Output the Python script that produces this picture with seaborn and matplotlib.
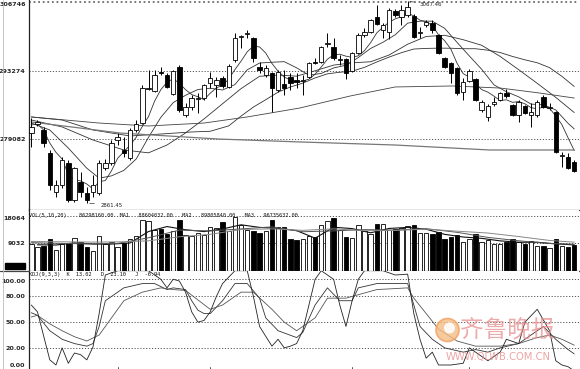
import numpy as np
import matplotlib
matplotlib.use("Agg")
import matplotlib.pyplot as plt
from matplotlib.patches import Ellipse
from matplotlib.lines import Line2D
import seaborn as sns

sns.set_style("white")
plt.rcParams['font.family'] = ['DejaVu Sans']

# ---------------- data ----------------
opens = [2932.8, 2942.0, 2935.9, 2912.4, 2872.7, 2879.8, 2902.2, 2864.5, 2882.9, 2871.6,
         2872.7, 2871.6, 2897.1, 2902.2, 2925.7, 2915.5, 2907.3, 2935.9, 2943.0, 2977.7,
         2975.7, 2995.1, 2992.0, 2972.6, 3000.2, 2951.2, 2959.4, 2967.5, 2968.5, 2983.8,
         2981.8, 2988.9, 2979.8, 3007.3, 3030.8, 3033.8, 3029.7, 3000.2, 2992.0, 2994.0,
         2976.7, 2982.8, 2990.0, 2986.9, 2985.9, 2990.0, 3005.3, 3005.3, 3023.6, 3020.6,
         3007.3, 3008.3, 2996.1, 3014.4, 3032.8, 3035.9, 3051.2, 3037.9, 3035.9, 3057.3,
         3051.2, 3053.2, 3052.2, 3034.8, 3043.0, 3045.0, 3032.8, 3009.3, 3004.2, 2999.1,
         2974.7, 2985.9, 2987.9, 2956.3, 2949.2, 2962.4, 2966.5, 2973.6, 2961.4, 2951.2,
         2960.4, 2951.2, 2951.2, 2969.6, 2958.3, 2954.3, 2909.4, 2908.4, 2903.3]
highs = [2948.1, 2946.1, 2939.0, 2915.5, 2884.9, 2908.4, 2905.3, 2898.2, 2893.1, 2877.8,
         2890.0, 2905.3, 2906.3, 2925.7, 2932.8, 2928.8, 2937.9, 2946.1, 2981.8, 2997.1,
         2997.1, 3000.2, 2994.0, 2997.1, 3002.2, 2963.4, 2971.6, 2973.6, 2982.8, 2995.1,
         2990.0, 2991.0, 3003.2, 3034.8, 3032.8, 3037.9, 3030.8, 3005.3, 3002.2, 2995.1,
         2997.1, 2997.1, 2994.0, 2994.0, 2992.0, 3005.3, 3009.3, 3021.6, 3034.8, 3029.7,
         3012.4, 3009.3, 3015.5, 3034.8, 3039.9, 3049.1, 3063.4, 3045.0, 3060.3, 3059.3,
         3063.4, 3067.46, 3054.2, 3041.0, 3048.1, 3048.1, 3033.8, 3010.4, 3005.3, 3000.2,
         2988.9, 2998.1, 2988.9, 2966.5, 2962.4, 2969.6, 2974.7, 2977.7, 2962.4, 2966.5,
         2961.4, 2963.4, 2966.5, 2971.6, 2963.4, 2955.3, 2913.5, 2912.4, 2905.3]
lows = [2918.6, 2940.0, 2918.6, 2874.7, 2867.6, 2876.7, 2862.5, 2862.5, 2867.6, 2861.45,
        2867.6, 2869.6, 2895.1, 2900.2, 2920.6, 2908.4, 2905.3, 2933.9, 2942.0, 2976.7,
        2974.7, 2992.0, 2978.7, 2971.6, 2954.3, 2949.2, 2956.3, 2953.2, 2966.5, 2978.7,
        2969.6, 2978.7, 2978.7, 3005.3, 3019.5, 3029.7, 3005.3, 2994.0, 2990.0, 2954.3,
        2974.7, 2971.6, 2976.7, 2978.7, 2971.6, 2988.9, 3003.2, 3004.2, 3020.6, 3007.3,
        3002.2, 2987.9, 2995.1, 3013.4, 3030.8, 3034.8, 3043.0, 3029.7, 3028.7, 3051.2,
        3043.0, 3051.2, 3029.7, 3029.7, 3041.0, 3034.8, 3013.4, 2999.1, 2983.8, 2971.6,
        2966.5, 2984.9, 2965.5, 2954.3, 2945.1, 2960.4, 2965.5, 2968.5, 2950.2, 2944.1,
        2952.2, 2939.0, 2949.2, 2958.3, 2956.3, 2912.4, 2898.2, 2896.1, 2893.1]
closes = [2939.0, 2944.1, 2922.6, 2879.8, 2879.8, 2905.3, 2864.5, 2897.1, 2872.7, 2864.5,
          2879.8, 2902.2, 2902.2, 2922.6, 2928.8, 2912.4, 2935.9, 2942.0, 2978.7, 2978.7,
          2992.0, 2994.0, 2979.8, 2996.1, 2956.3, 2959.4, 2968.5, 2968.5, 2981.8, 2988.9,
          2986.9, 2980.8, 3001.2, 3029.7, 3031.8, 3034.8, 3009.3, 2997.1, 2999.1, 2978.7,
          2995.1, 2978.7, 2983.8, 2984.9, 2986.9, 3004.2, 3004.2, 3020.6, 3024.6, 3009.3,
          3008.3, 2994.0, 3014.4, 3032.8, 3035.9, 3048.1, 3044.0, 3043.0, 3058.3, 3053.2,
          3058.3, 3061.4, 3030.8, 3035.9, 3046.1, 3037.9, 3014.4, 3000.2, 2994.0, 2973.6,
          2984.9, 2996.1, 2966.5, 2964.5, 2960.4, 2964.5, 2973.6, 2970.6, 2951.2, 2964.5,
          2953.2, 2954.3, 2964.5, 2959.4, 2959.4, 2913.5, 2910.4, 2897.1, 2894.1]
volumes = [9000, 7941, 8282, 10565, 6816, 8758, 9304, 10803, 9645, 7941,
           6475, 11587, 8758, 9440, 7941, 9304, 10565, 11587, 17040, 16699,
           13632, 13973, 12166, 13053, 17040, 11928, 11690, 12507, 11928, 14552,
           14211, 16256, 13053, 17824, 15097, 13393, 13291, 12507, 13291, 17040,
           14416, 14552, 10463, 10224, 10463, 11587, 11349, 15097, 16699, 17619,
           13632, 11349, 10803, 15336, 13291, 12269, 15574, 15574, 13632, 13871,
           14211, 14757, 15097, 12507, 12507, 12269, 12712, 10463, 11349, 11826,
           9645, 10463, 12166, 9645, 10224, 8758, 8758, 9645, 10463, 9645,
           8861, 9985, 8282, 8282, 7600, 10463, 8179, 7941, 8622]

ma5 = [2941.0, 2942.0, 2935.9, 2922.6, 2913.1, 2906.3, 2890.4, 2885.3, 2883.9, 2880.8,
       2875.7, 2883.3, 2884.3, 2894.3, 2907.1, 2913.7, 2920.4, 2928.4, 2939.6, 2949.6,
       2965.5, 2977.1, 2984.7, 2988.1, 2983.6, 2977.1, 2972.0, 2969.8, 2966.9, 2973.4,
       2978.9, 2981.4, 2987.9, 2997.5, 3006.1, 3015.7, 3021.4, 3020.6, 3014.4, 3003.8,
       2995.9, 2989.8, 2987.1, 2984.2, 2985.9, 2987.7, 2992.8, 3000.2, 3008.1, 3012.6,
       3013.2, 3011.2, 3010.0, 3011.6, 3016.9, 3025.0, 3035.0, 3040.8, 3045.9, 3049.3,
       3051.4, 3054.8, 3052.4, 3047.9, 3046.5, 3042.4, 3033.0, 3026.9, 3018.5, 3004.0,
       2993.4, 2989.8, 2983.0, 2977.1, 2974.5, 2970.4, 2965.9, 2966.7, 2964.1, 2964.9,
       2962.6, 2958.7, 2957.5, 2959.2, 2958.1, 2950.2, 2941.4, 2927.9, 2914.9]
ma10_x = [0, 3, 6, 9, 11, 13, 15, 17, 19, 21, 23, 25, 27, 29, 31, 33, 35, 37, 39, 41, 43, 45,
          47, 49, 51, 53, 55, 57, 59, 61, 63, 65, 67, 69, 71, 73, 75, 77, 79, 81, 83, 85, 87, 88]
ma10 = [2943.0, 2935.9, 2917.5, 2896.9, 2886.8, 2889.1, 2894.7, 2906.3, 2928.4, 2948.8,
        2963.8, 2971.3, 2977.2, 2978.5, 2976.7, 2982.2, 2997.3, 3004.2, 3005.0, 3005.6,
        2999.3, 2991.8, 2993.6, 2999.2, 3002.0, 3009.8, 3019.1, 3025.4, 3033.1, 3044.9,
        3046.9, 3046.9, 3039.6, 3025.3, 3011.4, 2997.8, 2981.9, 2974.9, 2969.7, 2962.3,
        2961.6, 2956.4, 2942.7, 2937.0]
ma20_x = [0, 5, 10, 15, 19, 22, 25, 28, 31, 34, 37, 40, 43, 46, 49, 52, 55, 58, 61, 64, 67,
          70, 73, 76, 79, 82, 85, 88]
ma20 = [2946.1, 2939.0, 2925.7, 2915.5, 2912.6, 2920.6, 2932.9, 2947.2, 2962.7, 2978.1,
        2990.7, 2991.9, 2990.8, 2996.3, 3002.1, 3004.4, 3005.5, 3012.4, 3023.4, 3031.3,
        3032.5, 3028.0, 3022.3, 3010.9, 2997.4, 2983.5, 2969.2, 2953.7]
ma30_x = [0, 5, 10, 16, 21, 26, 29, 32, 34, 36, 38, 40, 42, 44, 46, 48, 50, 52, 54, 56, 58,
          60, 62, 64, 66, 68, 70, 72, 74, 76, 78, 80, 82, 84, 86, 88]
ma30 = [2949.2, 2946.1, 2935.9, 2929.8, 2931.8, 2933.9, 2934.6, 2940.1, 2950.1, 2959.3,
        2966.8, 2974.5, 2979.8, 2983.7, 2989.0, 2993.2, 2994.8, 2995.9, 2999.8, 3005.3,
        3010.3, 3014.8, 3018.5, 3019.1, 3019.4, 3019.3, 3018.8, 3018.8, 3017.3, 3014.9,
        3010.9, 3007.5, 3004.5, 2999.5, 2990.6, 2980.3]
ma_long1_x = [0, 11, 19, 28, 35, 43.5, 51.7, 59, 68.3, 76, 82.4, 88]
ma_long1 = [2949.2, 2943.0, 2940.0, 2943.0, 2949.2, 2958.3, 2970.6, 2979.8, 2980.8,
            2978.7, 2973.6, 2968.5]
ma_long2_x = [0, 14.4, 30.3, 43.5, 58.9, 74.3, 88]
ma_long2 = [2944.1, 2932.8, 2926.7, 2923.7, 2920.6, 2915.5, 2915.5]

vma5_x = [1, 4, 7, 10, 13, 16, 19, 22, 25, 28, 31, 34, 37, 40, 43, 46, 49, 52, 55, 58, 61,
          64, 67, 70, 73, 76, 79, 82, 85, 88]
vma5 = [8600, 8521, 9249, 8834, 8840, 9202, 13039, 14702, 13632, 13019, 13891, 15288, 14422,
        14109, 13339, 10817, 14470, 14020, 12610, 14068, 14409, 13816, 12092, 11199, 10749,
        9910, 9454, 9447, 8922, 8561]
vma10_x = [0, 4, 9, 14, 19, 24, 29, 34, 39, 44, 49, 54, 59, 64, 69, 74, 79, 84, 88]
vma10 = [9300, 9100, 8906, 9065, 10940, 13506, 13247, 13905, 14596, 12964, 13247, 13676,
         13533, 14000, 12770, 11076, 9941, 9028, 8786]
vma20_x = [0, 5, 10, 15, 19, 24, 29, 34, 39, 44, 49, 54, 59, 64, 69, 74, 79, 84, 88]
vma20 = [9700, 9600, 9500, 9600, 9923, 11286, 12093, 13705, 13922, 13434, 13922, 13320,
         13390, 13838, 13151, 12538, 11356, 10052, 9473]

kdj_j_x = [0, 1, 3, 4, 5, 6, 7, 8, 9, 10, 11, 12, 14, 19, 21, 22, 23, 24, 25, 26, 27, 28, 29,
           30, 31, 33, 35, 36, 37, 39, 40, 41, 42, 43, 44, 45, 46, 47, 49, 50, 51, 52, 53, 54,
           57, 59, 61, 62, 63, 64, 65, 66, 67, 68, 70, 71, 73, 74, 76, 77, 79, 80, 82, 84, 85,
           86, 87, 88]
kdj_j = [70, 62, 6, 0, 20, 2, 14, 12, 6, 21, 60, 105, 110, 110, 100, 90, 100, 98, 85, 62, 50,
         52, 62, 80, 95, 110, 110, 80, 45, 22, 30, 20, 22, 25, 40, 70, 100, 110, 100, 70, 45,
         75, 100, 110, 110, 105, 106, 60, 30, 8, 15, 0, 0, 0, 2, 20, 10, 5, 15, 30, 25, 50, 65,
         40, 5, 0, -2, -6.94]
kdj_k_x = [0, 1, 3, 5, 7, 9, 10, 11, 12, 14, 15, 18, 20, 22, 23, 25, 26, 27, 28, 29, 31, 33,
           35, 37, 38, 40, 43, 44, 46, 48, 50, 52, 53, 56, 59, 61, 62, 63, 65, 67, 70, 72, 74,
           76, 79, 81, 83, 85, 87, 88]
kdj_k = [61, 58, 40, 30, 25, 22, 25, 45, 75, 85, 90, 95, 95, 88, 90, 88, 75, 64, 60, 60, 75,
         95, 95, 78, 55, 40, 32, 38, 70, 90, 75, 75, 90, 95, 95, 95, 70, 45, 30, 20, 15, 18,
         15, 20, 25, 35, 45, 30, 18, 13.02]
kdj_d_x = [0, 1, 3, 5, 7, 9, 11, 13, 15, 18, 21, 23, 25, 27, 29, 31, 34, 36, 39, 41, 43, 46,
           48, 51, 53, 56, 61, 62, 64, 66, 69, 72, 76, 79, 82, 84, 86, 88]
kdj_d = [56, 58, 48, 40, 33, 28, 35, 55, 75, 85, 90, 88, 87, 76, 65, 70, 85, 85, 65, 50, 40,
         55, 78, 78, 82, 88, 90, 78, 60, 42, 28, 22, 22, 25, 32, 35, 30, 23.10]

price_ticks = [2926.4, 2996.4, 3066.8]
price_labels = ['279082', '293274', '306746']
vol_ticks = [9032, 18064]
kdj_ticks = [0, 20, 50, 80, 100]
kdj_labels = ['0.00', '20.00', '50.00', '80.00', '100.00']
vol_title = "VOL(5,10,20)    86298160.00  MA1   88604032.00   MA2   89805840.00   MA3   96735632.00"
kdj_title = "KDJ(9,3,3)  K  13.02   D  23.10   J  -6.94"
month_marks = [14, 29, 52, 71]

# ---------------- layout ----------------
W, H = 580, 369
fig = plt.figure(figsize=(W / 100, H / 100), dpi=100)
fig.patch.set_facecolor('white')


def ax_px(x0, y0, x1, y1):
    return fig.add_axes([x0 / W, 1 - y1 / H, (x1 - x0) / W, (y1 - y0) / H])


ax_p = ax_px(29, 0, 579, 209.5)
ax_v = ax_px(29, 209.5, 579, 270.5)
ax_k = ax_px(29, 270.5, 579, 369)

idx = np.arange(len(closes))
o = np.array(opens); c = np.array(closes); hi = np.array(highs); lo = np.array(lows)
up = c >= o

for ax in (ax_p, ax_v, ax_k):
    ax.set_xlim(-0.37, 88.77)
    ax.set_facecolor('white')
    for s in ax.spines.values():
        s.set_visible(False)
    ax.spines['left'].set_visible(True)
    ax.spines['left'].set_color('#222222')
    ax.spines['left'].set_linewidth(0.9)
    ax.set_xticks([])
    ax.tick_params(axis='y', length=0, pad=2.5, labelsize=4.6)
    ax.set_xlabel('')

dot = (0, (1.2, 1.8))

# ---- price panel ----
ax_p.set_ylim(2854.8, 3068.5)
for y in price_ticks:
    ax_p.axhline(y, color='#555555', lw=0.7 if y < 3060 else 1.1, ls=dot, zorder=1)
ax_p.spines['bottom'].set_visible(True)
ax_p.spines['bottom'].set_color('#444444')
ax_p.spines['bottom'].set_linewidth(0.9)

line_specs = [
    (idx, ma5, '#333333', 0.6),
    (ma10_x, ma10, '#333333', 0.6),
    (ma20_x, ma20, '#333333', 0.6),
    (ma30_x, ma30, '#333333', 0.6),
    (ma_long1_x, ma_long1, '#444444', 0.6),
    (ma_long2_x, ma_long2, '#777777', 0.9),
]
for xs, ys, col, lw in line_specs:
    sns.lineplot(x=np.asarray(xs, float), y=np.asarray(ys, float), ax=ax_p, color=col,
                 linewidth=lw, zorder=2, legend=False)

ax_p.vlines(idx, lo, hi, color='black', lw=0.7, zorder=3)
body_lo = np.minimum(o, c)
body_h = np.maximum(np.abs(c - o), 0.6)
ax_p.bar(idx, body_h, bottom=body_lo, width=0.72,
         color=['white' if u else 'black' for u in up], edgecolor='black', linewidth=0.6, zorder=4)
ax_p.set_yticks(price_ticks)
ax_p.set_yticklabels(price_labels, fontweight='bold')
ax_p.get_yticklabels()[-1].set_va('top')
ax_p.set_ylabel('')

ax_p.annotate('2861.45', xy=(9, 2861.45), xytext=(11.2, 2859.0), fontsize=3.9,
              va='center', ha='left', color='#222222',
              arrowprops=dict(arrowstyle='-', lw=0.5, color='#333333'))
ax_p.annotate('3067.46', xy=(61, 3067.46), xytext=(63.0, 3063.4), fontsize=3.9,
              va='center', ha='left', color='#222222',
              arrowprops=dict(arrowstyle='-', lw=0.5, color='#333333'))

# ---- volume panel ----
ax_v.set_ylim(0, 20404)
for y in vol_ticks:
    ax_v.axhline(y, color='#555555', lw=0.7, ls=dot, zorder=1)
ax_v.bar(idx, volumes, width=0.72, color=['white' if u else 'black' for u in up],
         edgecolor='black', linewidth=0.6, zorder=2)
for xs, ys, col, lw in [(vma5_x, vma5, '#111111', 0.8), (vma10_x, vma10, '#555555', 0.7),
                        (vma20_x, vma20, '#888888', 0.7)]:
    sns.lineplot(x=np.asarray(xs, float), y=np.asarray(ys, float), ax=ax_v, color=col,
                 linewidth=lw, zorder=3, legend=False)
ax_v.spines['bottom'].set_visible(True)
ax_v.spines['bottom'].set_color('#444444')
ax_v.spines['bottom'].set_linewidth(0.9)
ax_v.set_yticks(vol_ticks)
ax_v.set_yticklabels(['9032', '18064'], fontweight='bold')
ax_v.get_yticklabels()[-1].set_va('top')
ax_v.set_ylabel('')
ax_v.text(0.0, 0.95, vol_title, transform=ax_v.transAxes, fontsize=3.8, va='top', ha='left',
          color='#111111', family='DejaVu Sans Mono')

# ---- KDJ panel ----
ax_k.set_ylim(-4.67, 110.27)
for y in kdj_ticks[1:]:
    ax_k.axhline(y, color='#555555', lw=0.7, ls=dot, zorder=1)
for xs, ys, col in [(kdj_k_x, kdj_k, '#333333'), (kdj_d_x, kdj_d, '#555555'),
                    (kdj_j_x, kdj_j, '#222222')]:
    sns.lineplot(x=np.asarray(xs, float), y=np.asarray(ys, float), ax=ax_k, color=col,
                 linewidth=0.6, zorder=2, legend=False)
ax_k.set_yticks(kdj_ticks)
ax_k.set_yticklabels(kdj_labels, fontweight='bold')
ax_k.get_yticklabels()[-1].set_va('top')
ax_k.set_ylabel('')
ax_k.text(0.0, 0.985, kdj_title, transform=ax_k.transAxes, fontsize=3.8, va='top', ha='left',
          color='#111111', family='DejaVu Sans Mono')
for m in month_marks:
    ax_k.plot([m, m], [-4.67, -2.2], color='#333333', lw=0.6, zorder=3)

# separator across label column and left image border
fig.add_artist(Line2D([0, 29 / W], [1 - 270.5 / H] * 2, color='#444444', lw=0.9))
fig.add_artist(Line2D([2.5 / W] * 2, [0, 1], color='#bbbbbb', lw=0.6))
fig.add_artist(plt.Rectangle((5 / W, 1 - 268.5 / H), 20 / W, 6 / H, color='black'))

# ---- watermark ----
fig.add_artist(Ellipse((447.5 / W, 1 - 330 / H), 23 / W, 23 / H, facecolor='#f6bd86',
                       edgecolor='#f0a060', lw=1.2, alpha=0.8))
fig.add_artist(Ellipse((449.5 / W, 1 - 328 / H), 11 / W, 11 / H, facecolor='white',
                       edgecolor='none', alpha=0.9))
fig.text(507 / W, 1 - 330 / H, '齐鲁晚报', fontsize=17, color='#e88e8e', alpha=0.75,
         ha='center', va='center', family=['Noto Sans CJK SC', 'DejaVu Sans'])
fig.text(498 / W, 1 - 357 / H, 'WWW.QLWB.COM.CN', fontsize=7.2, color='#e88e8e', alpha=0.8,
         ha='center', va='center')

fig.savefig('out.png', dpi=100, facecolor='white')
